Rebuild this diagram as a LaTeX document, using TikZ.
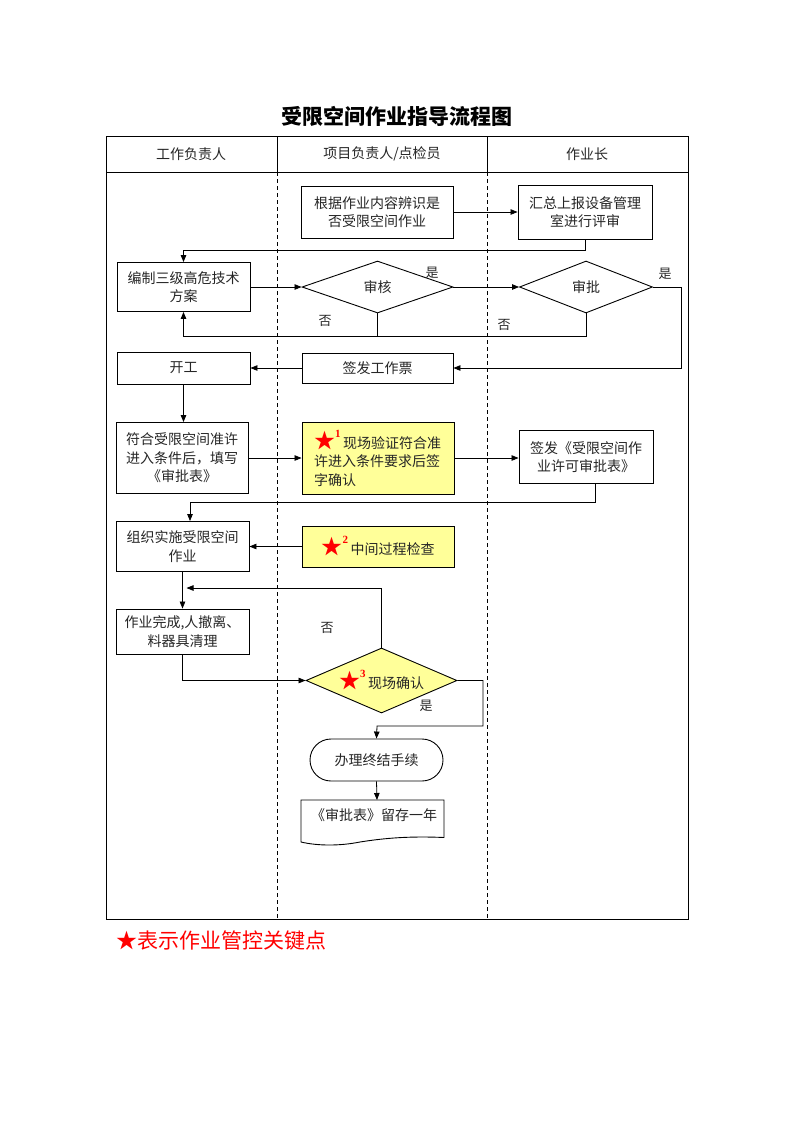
\documentclass[tikz,border=0pt]{standalone}
\usepackage{fontspec}
\setmainfont{Liberation Serif}
\newfontfamily\cjk{Noto Sans CJK SC}
\usetikzlibrary{shapes.geometric,arrows.meta}
\definecolor{keyyellow}{HTML}{FFFF99}
\newcommand{\keystar}[1]{{\color{red}\fontsize{21}{18}\selectfont ★}\raisebox{11pt}{\color{red}\fontsize{11}{11}\selectfont\rmfamily\bfseries #1}\hspace{2.5pt}}
\begin{document}
\begin{tikzpicture}[x=1pt,y=-1pt,
  every node/.style={font=\cjk\fontsize{14}{18.5}\selectfont, text=black!85},
  frame/.style={draw=black, line width=1pt},
  lane/.style={draw=black, line width=0.8pt, dash pattern=on 4pt off 3pt},
  box/.style={draw=black, line width=0.9pt, align=center, inner sep=2pt},
  keybox/.style={box, fill=keyyellow},
  dia/.style={draw=black, line width=0.9pt, diamond, inner sep=0pt, shape aspect=2.4},
  term/.style={box, rounded corners=21pt},
  conn/.style={draw=black, line width=0.8pt},
  arr/.style={conn, -{Triangle[length=7pt,width=5.5pt]}},
  lbl/.style={inner sep=0pt, font=\cjk\fontsize{13}{13}\selectfont}
]
\useasboundingbox (0,0) rectangle (793,1122);
\fill[white] (0,0) rectangle (793,1122);

% title
\node[font=\cjk\bfseries\fontsize{21}{21}\selectfont, text=black] (title) at (397,116) {受限空间作业指导流程图};

% table
\draw[frame] (106,136) rectangle (688,919);
\draw[frame] (106,172) -- (688,172);
\draw[frame] (277,136) -- (277,172);
\draw[frame] (487,136) -- (487,172);
\draw[lane] (277,172) -- (277,919);
\draw[lane] (487,172) -- (487,919);

\node (h1) at (191,154) {工作负责人};
\node (h2) at (382,154) {项目负责人/点检员};
\node (h3) at (587,154) {作业长};

% nodes
\node[box, minimum width=152pt, minimum height=52pt] (b1) at (377,212) {根据作业内容辨识是\\否受限空间作业};
\node[box, minimum width=134pt, minimum height=54pt] (b2) at (585,212) {汇总上报设备管理\\室进行评审};
\node[box, minimum width=133pt, minimum height=49pt] (b3) at (183.5,287) {编制三级高危技术\\方案};
\node[dia, minimum width=151pt, minimum height=52pt] (d1) at (377.5,287) {审核};
\node[dia, minimum width=133pt, minimum height=52pt] (d2) at (586,287) {审批};
\node[box, minimum width=133pt, minimum height=32pt] (b4) at (183.5,368) {开工};
\node[box, minimum width=151pt, minimum height=30pt] (b5) at (377.5,368) {签发工作票};
\node[box, minimum width=132pt, minimum height=71pt] (b6) at (182,458) {符合受限空间准许\\进入条件后，填写\\《审批表》};
\node[keybox, minimum width=152pt, minimum height=72pt, text width=128pt, align=left, inner sep=0pt] (y1) at (378,458) {\keystar{1}现场验证符合准\\许进入条件要求后签\\字确认};
\node[box, minimum width=134pt, minimum height=53pt] (b7) at (586,457) {签发《受限空间作\\业许可审批表》};
\node[box, minimum width=133pt, minimum height=50pt] (b8) at (182.5,546.5) {组织实施受限空间\\作业};
\node[keybox, minimum width=152pt, minimum height=41pt] (y2) at (378,546.5) {\keystar{2}中间过程检查};
\node[box, minimum width=133pt, minimum height=45pt] (b9) at (182.5,631.5) {作业完成,人撤离、\\料器具清理};
\node[dia, fill=keyyellow, minimum width=151pt, minimum height=65pt] (d3) at (381.5,680.5) {\keystar{3}现场确认};
\node[term, minimum width=133pt, minimum height=42pt] (t1) at (376.5,760) {办理终结手续};

% document shape
\draw[box] (301,800) -- (444,800) -- (444,837.5)
  .. controls (410,836) and (385,838) .. (360,842)
  .. controls (340,846) and (318,846) .. (301,842) -- cycle;
\node (doc) at (374,815) {《审批表》留存一年};
\coordinate (doctop) at (377,800);

% helper coordinates
\coordinate (c1) at (183.5,250);
\coordinate (r1) at (681,368);
\coordinate (c3) at (183.5,336);
\coordinate (c4) at (377.5,336);
\coordinate (c5) at (595,502);
\coordinate (c6) at (190,502);
\coordinate (c7) at (186.5,588);
\coordinate (c8) at (483,726);
\coordinate (c9) at (377,726);

% connectors
\draw[arr] (b1.east) -- (b2.west);
\draw[arr] (b2.south) |- (c1) -- (b3.north);
\draw[arr] (b3.east) -- (d1.west);
\draw[arr] (d1.east) -- (d2.west);
\draw[arr] (d2.east) -| (r1) -- (b5.east);
\draw[arr] (d1.south) |- (c3) -- (b3.south);
\draw[conn] (d2.south) |- (c4);
\draw[arr] (b5.west) -- (b4.east);
\draw[arr] (b4.south) -- (b4.south |- b6.north);
\draw[arr] (b6.east) -- (y1.west);
\draw[arr] (y1.east) -- (y1.east -| b7.west);
\draw[arr] (b7.south -| c5) |- (c6) -- (c6 |- b8.north);
\draw[arr] (y2.west) -- (y2.west -| b8.east);
\draw[arr] (b8.south) -- (b9.north);
\draw[arr] (d3.north) |- (c7);
\draw[arr] (b9.south) |- (d3.west);
\draw[arr] (d3.east) -| (c8) -- (c9) -- (t1.north);
\draw[arr] (t1.south) -- (doctop);

% labels
\node[lbl] (l1) at (432,273) {是};
\node[lbl] (l2) at (665,274) {是};
\node[lbl] (l3) at (325,321) {否};
\node[lbl] (l4) at (504,325) {否};
\node[lbl] (l5) at (327,628) {否};
\node[lbl] (l6) at (426,706) {是};

% footer
\node[font=\cjk\fontsize{21}{21}\selectfont, text=red] (foot) at (221,941) {★表示作业管控关键点};
\end{tikzpicture}
\end{document}
